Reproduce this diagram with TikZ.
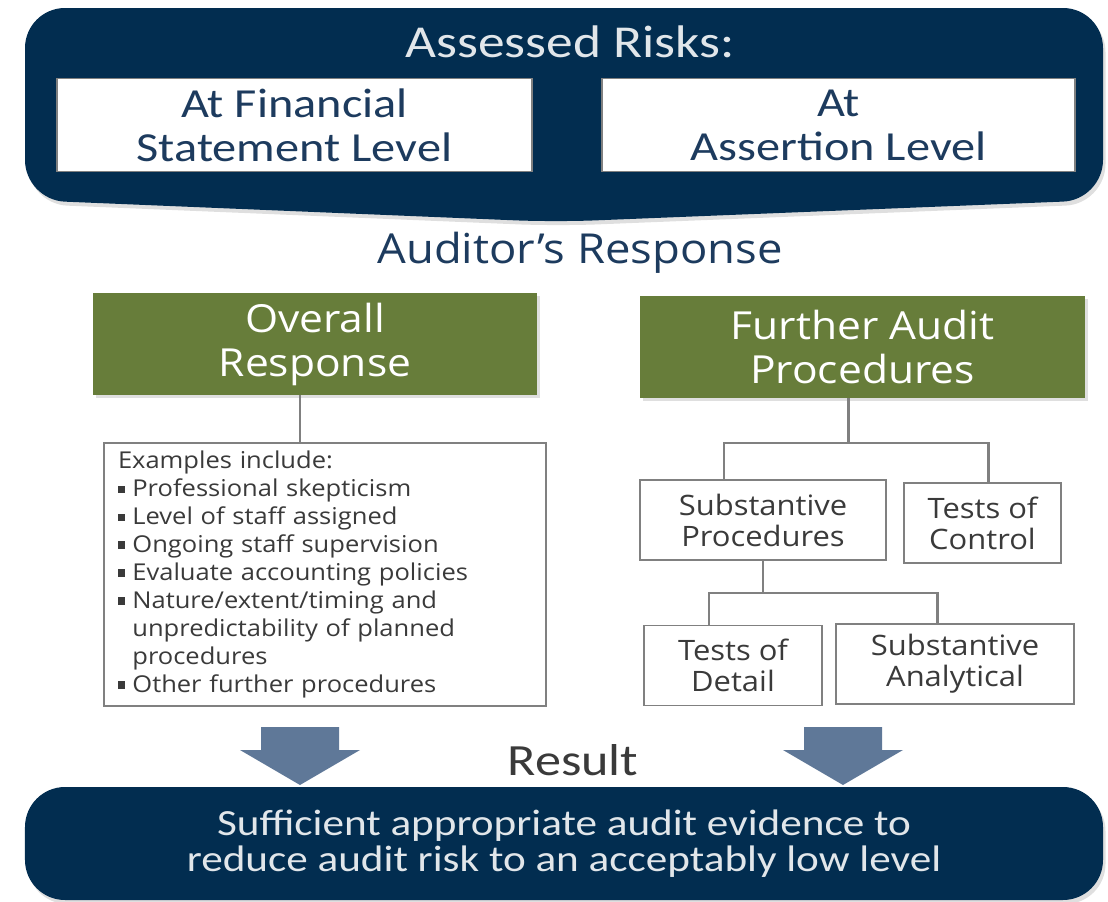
\documentclass[tikz,border=0pt]{standalone}
\usepackage{fontspec}
\setmainfont[FakeStretch=1.17]{Carlito}
\newfontfamily\segfont[FakeStretch=1.1]{Open Sans}
\usepackage{xcolor}
\usepackage{tikz}
\usetikzlibrary{shapes,arrows,positioning,calc,shadows,arrows.meta}

\definecolor{navy}{HTML}{022D50}
\definecolor{inknavy}{HTML}{1D3B5E}
\definecolor{olive}{HTML}{677D3A}
\definecolor{steel}{HTML}{5F7898}
\definecolor{ink}{HTML}{3A3A3A}
\definecolor{rim}{HTML}{808080}

\newcommand{\sqb}{\rule[0.3ex]{0.32em}{0.32em}\hspace{0.3em}}

\tikzset{
    riskbox/.style={draw=rim, line width=1pt, fill=white, text=inknavy, align=center,
        minimum width=9.5cm, minimum height=1.86cm, font=\fontsize{23.5}{25}\selectfont},
    greenbox/.style={fill=olive, text=white, align=center, minimum width=8.9cm, minimum height=2.04cm,
        font=\segfont\fontsize{22}{25}\selectfont,
        drop shadow={opacity=0.25, shadow xshift=0.05cm, shadow yshift=-0.06cm}},
    leaf/.style={draw=rim, line width=1.1pt, fill=white, text=ink, align=center, minimum height=1.6cm,
        font=\segfont\fontsize{16}{17.6}\selectfont},
    link/.style={draw=rim, line width=1.7pt},
}

\begin{document}
\begin{tikzpicture}
    \useasboundingbox (0,0) rectangle (22.16,-18.04);

    % Assessed risks banner
    \fill[navy, rounded corners=0.8cm, drop shadow={opacity=0.25, shadow xshift=0.05cm, shadow yshift=-0.08cm}]
        (0.5,-0.16) -- (22.06,-0.16) -- (22.06,-4.0) -- (11.1,-4.44) -- (0.5,-4.0) -- cycle;
    \node[text=white!88!navy, font=\fontsize{26}{28}\selectfont] (risks) at (11.4,-0.84) {Assessed Risks:};
    \node[riskbox] (fsl) at (5.89,-2.5) {At Financial\\Statement Level};
    \node[riskbox, minimum width=9.46cm] (asl) at (16.77,-2.5) {At\\Assertion Level};

    % Responses
    \node[text=inknavy, font=\segfont\fontsize{23.5}{25}\selectfont] (resp) at (11.6,-5.06) {Auditor’s Response};
    \node[greenbox, minimum width=8.88cm] (overall) at (6.3,-6.88) {Overall\\Response};
    \node[greenbox] (further) at (17.25,-6.94) {Further Audit\\Procedures};

    % Overall response examples
    \node[draw=rim, line width=1.1pt, fill=white, text=ink, align=left, text width=8.28cm, inner xsep=0.28cm,
        minimum height=5.26cm, font=\segfont\fontsize{13.2}{15.9}\selectfont] (examples) at (6.5,-11.49) {%
        Examples include:\\
        \sqb Professional skepticism\\
        \sqb Level of staff assigned\\
        \sqb Ongoing staff supervision\\
        \sqb Evaluate accounting policies\\
        \sqb Nature/extent/timing and\\
        \hphantom{\sqb}unpredictability of planned\\
        \hphantom{\sqb}procedures\\
        \sqb Other further procedures};
    \coordinate (ovdrop) at (6.0,-8.86);
    \draw[link] (overall.south -| ovdrop) -- (ovdrop |- examples.north);

    % Further audit procedures tree
    \node[leaf, minimum width=4.92cm] (subproc) at (15.26,-10.4) {Substantive\\Procedures};
    \node[leaf, minimum width=3.14cm] (ctrl) at (19.65,-10.46) {Tests of\\Control};
    \node[leaf, minimum width=3.56cm] (detail) at (14.66,-13.31) {Tests of\\Detail};
    \node[leaf, minimum width=4.76cm] (analyt) at (19.1,-13.28) {Substantive\\Analytical};

    \coordinate (forkA) at (16.96,-8.86);
    \coordinate (forkAl) at (14.48,-8.86);
    \coordinate (forkAr) at (19.76,-8.86);
    \draw[link] (further.south -| forkA) -- (forkA);
    \draw[link] (forkAl |- subproc.north) -- (forkAl) -- (forkAr) -- (forkAr |- ctrl.north);

    \coordinate (forkB) at (15.26,-11.86);
    \coordinate (forkBl) at (14.18,-11.86);
    \coordinate (forkBr) at (18.74,-11.86);
    \draw[link] (subproc.south) -- (forkB);
    \draw[link] (forkBl |- detail.north) -- (forkBl) -- (forkBr) -- (forkBr |- analyt.north);

    % Down arrows
    \foreach \cx in {6.0,16.86} {
        \fill[steel] (\cx-0.78,-14.54) -- (\cx+0.78,-14.54) -- (\cx+0.78,-15.0) -- (\cx+1.2,-15.0)
            -- (\cx,-15.7) -- (\cx-1.2,-15.0) -- (\cx-0.78,-15.0) -- cycle;
    }
    \node[text=ink, font=\fontsize{25.4}{28}\selectfont] (result) at (11.46,-15.2) {Result};

    % Result banner
    \node[fill=navy, rounded corners=0.8cm, minimum width=21.56cm, minimum height=2.26cm, text=white!88!navy,
        align=center, font=\fontsize{21}{20.5}\selectfont,
        drop shadow={opacity=0.25, shadow xshift=0.05cm, shadow yshift=-0.08cm}] (evidence) at (11.28,-16.87)
        {Sufficient appropriate audit evidence to\\reduce audit risk to an acceptably low level};
\end{tikzpicture}
\end{document}
